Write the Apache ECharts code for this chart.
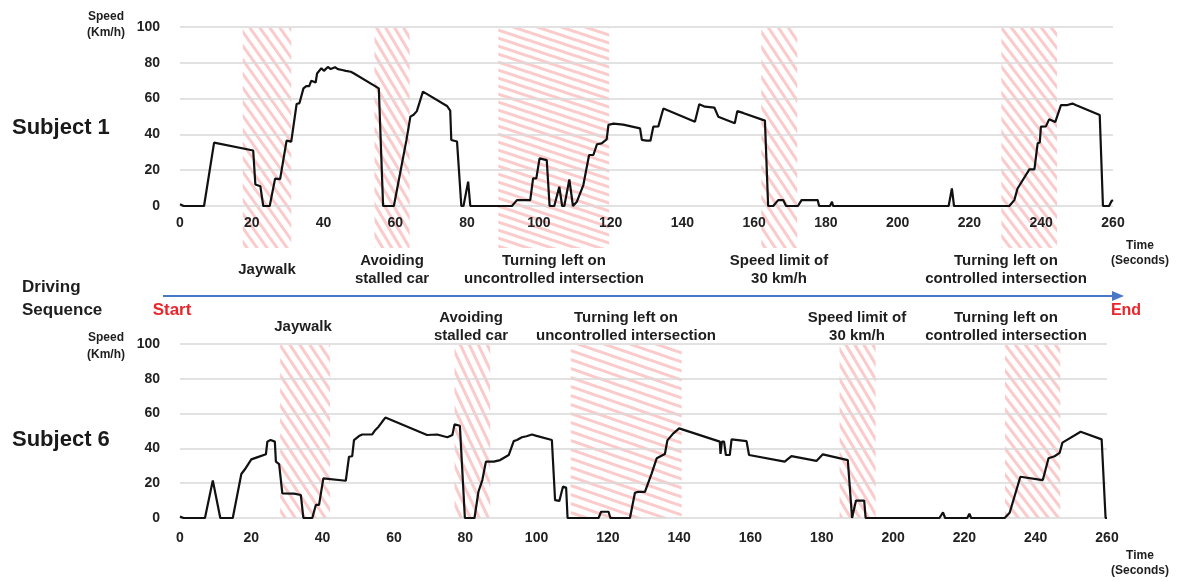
<!DOCTYPE html>
<html><head><meta charset="utf-8">
<script src="https://cdn.jsdelivr.net/npm/echarts@6/dist/echarts.min.js"></script>
<style>html,body{margin:0;padding:0;background:#fff;} #c{width:1178px;height:581px;}</style>
</head><body><div id="c"></div>
<script>
// ---------- data ----------
const xMin = 0, xMax = 260, xStep = 20;
const yMin = 0, yMax = 100, yStep = 20;

// Subject 1 speed trace [time s, speed km/h]
const subject1 = [[0,1],[1,0],[6.7,0],[9.5,35.4],[20.4,31],[21,12],[22.4,11],[23.2,0],[25,0],[26.5,15.3],[27.9,15],[29.7,36.5],[31,36],[32.5,57],[33.3,57.5],[34.4,65.7],[35.2,67],[36,67],[36.6,70],[37.8,69],[38.2,74],[39.4,77],[40.1,75.5],[41.2,77.7],[42,76.5],[43.2,77.5],[44,76.5],[45.2,76],[46.2,75.5],[47.6,75],[48.5,74],[55.4,65.7],[56.6,0],[59.6,0],[63.1,36.8],[64.2,49.9],[65.1,51],[66,53],[67.7,63.9],[74.4,55.9],[75.3,53.3],[75.6,36.9],[77.2,36],[78.4,0],[79,0],[80.3,13.6],[80.9,0],[92.5,0],[93.9,3.3],[97.6,3.3],[98.4,15.4],[99.3,15.4],[100.2,26.6],[102.2,25.6],[103,0],[104.3,0],[105.7,10.8],[106.5,0],[107.1,0],[108.5,14.9],[109.5,0],[110.6,2.4],[112.4,11.7],[114,28.5],[115.2,28.5],[116.2,34.5],[117.5,35],[118.9,37.2],[119.4,45.3],[120.8,46],[123.5,45.5],[128.2,43.4],[128.7,36.9],[130,36.5],[131.1,36.5],[131.9,44.3],[133.3,44.5],[134.7,54.5],[143.5,47.1],[144.7,56.8],[146.3,55.5],[148.9,55],[150,49.9],[154.6,46.2],[155.3,53],[156.9,52],[163,47.7],[163.9,0],[165.3,0],[166.7,3.3],[168.1,3.3],[168.9,0],[172.2,0],[173.2,3.3],[177.7,3.3],[178.1,0],[181.1,0],[181.7,2.4],[182,0],[214.2,0],[215.1,9.8],[215.7,0],[220,0],[220.4,1],[220.8,0],[231.1,0],[232.5,3.3],[233.4,9.8],[236.7,20.5],[238.1,20.5],[239,35],[239.6,35.5],[239.9,44.3],[241.3,44.5],[242.2,48.4],[243.9,46.9],[245.5,56.4],[247.3,56.4],[248.7,57.2],[249.6,56.4],[256.3,50.8],[257.2,0],[258.9,0],[259.6,2.8],[260,3.3]];

// Subject 6 speed trace [time s, speed km/h]
const subject6 = [[0,0.8],[1,0],[7,0],[9.2,21.5],[11.3,0],[14.8,0],[17.2,25.3],[18.2,28],[20,33.7],[21.8,35],[24.1,36.6],[24.5,43.9],[25.4,44.8],[26.6,43.9],[26.9,32.4],[27.8,31],[28.7,14.2],[32,14],[33.9,13.2],[34.6,0],[37.1,0],[38.1,7.5],[39,7.5],[40.2,22.8],[46.5,21.4],[47.4,35.2],[48.3,35.5],[48.8,44.8],[50.2,47.1],[51.1,48],[53.9,48],[54.8,50.6],[55.7,52.5],[56.7,55.3],[57.6,57.7],[69.3,47.7],[72.1,48],[75,46.4],[76.4,47.7],[77,53.8],[78.5,53],[79.9,0],[82.6,0],[83.7,15.1],[84.8,21.8],[85.8,32.4],[88,32.4],[89.8,33.3],[92.2,36.2],[93.6,44.2],[94.5,44.8],[95.9,46.4],[97.2,47],[98.7,48],[100,47.2],[104.3,44.8],[105.2,10.3],[106.4,9.8],[107.4,18],[108.3,17.5],[108.7,0],[117.4,0],[118.1,3.6],[120.2,3.6],[120.7,0],[126.2,0],[127.6,14.5],[128.5,15],[130.4,15],[132.3,25.7],[133.7,34.3],[136,36.8],[136.7,44.6],[138.3,48.5],[140,51.5],[151.4,43.9],[151.6,36.8],[152,43.9],[152.6,43.9],[153.1,36.2],[154.2,36.2],[154.7,45.2],[158.9,44.2],[159.6,36.2],[169.6,32.4],[171.5,35.6],[178.5,32.8],[180.3,36.6],[187.3,33.3],[188.5,0],[189.6,10],[191.9,10],[192.3,0],[213,0],[214,3.2],[214.6,0],[220.8,0],[221.4,2.5],[221.9,0],[231.3,0],[232.7,3],[235.7,23.7],[242,21.8],[243.6,34.3],[245.3,35.5],[246.7,37.4],[247.5,43.3],[252.6,49.6],[258.5,45.2],[259.6,0],[260,0]];

// Event windows [start s, end s]
const bands1 = [[17.5,31],[54.2,64],[88.7,119.6],[162,172],[228.9,244.4]];
const bands6 = [[28.1,42.1],[77,87],[109.6,140.7],[185,195.1],[231.4,246.9]];

const eventNames = ['Jaywalk','Avoiding\nstalled car','Turning left on\nuncontrolled intersection','Speed limit of\n30 km/h','Turning left on\ncontrolled intersection'];
const subjectNames = ['Subject 1','Subject 6'];

// ---------- styles ----------
const FONT = '"Liberation Sans", Arial, sans-serif';
const slopes1 = [1.4,1.7,0.35,1.5,1.3];
const slopes6 = [1.5,2.1,0.33,1.7,1.25];

function stripe(s, d){
  const W = Math.max(4, Math.round(d*Math.sqrt(1+s*s)/s));
  const H = Math.max(3, Math.round(W*s));
  const c = document.createElement('canvas'); c.width = W; c.height = H;
  const g = c.getContext('2d');
  g.strokeStyle = 'rgba(248,150,150,0.5)'; g.lineWidth = 3;
  for (let i=-1;i<=1;i++) for (let j=-1;j<=1;j++){
    g.beginPath(); g.moveTo(i*W, j*H); g.lineTo(i*W+W, j*H+H); g.stroke();
  }
  return {image: c, repeat: 'repeat'};
}

function bandSeries(bands, slopes, idx, extTop, extBottom){
  const pats = slopes.map(s => stripe(s, 8));
  return {
    type:'custom', xAxisIndex: idx, yAxisIndex: idx, z: -1, clip: false, silent: true,
    data: bands.map(b => [b[0], b[1]]),
    encode: {x: [0,1]},
    renderItem(params, api){
      const x0 = api.coord([api.value(0), 0])[0];
      const x1 = api.coord([api.value(1), 0])[0];
      const cs = params.coordSys;
      return {type:'rect', shape:{x:x0, y:cs.y+extTop, width:x1-x0, height:cs.height-extTop+extBottom},
              style:{fill: pats[params.dataIndex]}};
    }
  };
}

function xAxisCfg(i, margin){
  return {type:'value', gridIndex:i, min:xMin, max:xMax, interval:xStep,
    axisLine:{show:false}, axisTick:{show:false}, splitLine:{show:false},
    axisLabel:{margin:margin, fontSize:14, fontWeight:'bold', color:'#222', fontFamily:FONT}};
}
function yAxisCfg(i){
  return {type:'value', gridIndex:i, min:yMin, max:yMax, interval:yStep,
    axisLine:{show:false}, axisTick:{show:false},
    splitLine:{lineStyle:{color:'#d9d9d9', width:1.5}},
    axisLabel:{margin:20, fontSize:14, fontWeight:'bold', color:'#222', fontFamily:FONT}};
}
function lineSeries(d, i){
  return {type:'line', xAxisIndex:i, yAxisIndex:i, data:d, showSymbol:false, z:3,
    lineStyle:{color:'#111', width:2.2}};
}

function txt(x, y, text, size, opts){
  opts = opts || {};
  return {type:'text', x:x, y:y, silent:true, z:10,
    style:{text:text, font:'bold '+size+'px '+FONT, fill:opts.fill||'#1e1e1e',
      align:opts.align||'center', verticalAlign:'middle', lineHeight:opts.lh||Math.round(size*1.2)}};
}

const topLabelX = [267, 392, 554, 779, 1006];
const botLabelX = [303, 471, 626, 857, 1006];

const graphics = [];
graphics.push(txt(12, 128, subjectNames[0], 22, {align:'left', fill:'#1a1a1a'}));
graphics.push(txt(12, 440, subjectNames[1], 22, {align:'left', fill:'#1a1a1a'}));
graphics.push(txt(106, 24.5, 'Speed\n(Km/h)', 12, {lh:16}));
graphics.push(txt(106, 346, 'Speed\n(Km/h)', 12, {lh:17}));
graphics.push(txt(1140, 253.5, 'Time\n(Seconds)', 12, {lh:15}));
graphics.push(txt(1140, 563, 'Time\n(Seconds)', 12, {lh:15}));
graphics.push(txt(22, 298.5, 'Driving\nSequence', 17, {align:'left', lh:23}));
graphics.push(txt(172, 310, 'Start', 17, {fill:'#e8262b'}));
graphics.push(txt(1126, 311, 'End', 16, {fill:'#e8262b'}));
eventNames.forEach((n,i)=>{
  graphics.push(txt(topLabelX[i], 270, n, 15, {lh:18}));
  graphics.push(txt(botLabelX[i], 327, n, 15, {lh:18}));
});
graphics.push({type:'line', silent:true, z:9, shape:{x1:163, y1:296, x2:1114, y2:296}, style:{stroke:'#4a78c8', lineWidth:2}});
graphics.push({type:'polygon', silent:true, z:9, shape:{points:[[1112,291],[1124,296],[1112,301]]}, style:{fill:'#4a78c8'}});

const chart = echarts.init(document.getElementById('c'), null, {renderer:'canvas'});
chart.setOption({
  animation:false,
  backgroundColor:'#fff',
  grid:[{left:180, right:65, top:27, height:179}, {left:180, right:71, top:344, height:174}],
  xAxis:[xAxisCfg(0,10), xAxisCfg(1,13)],
  yAxis:[yAxisCfg(0), yAxisCfg(1)],
  series:[
    bandSeries(bands1, slopes1, 0, 1, 42),
    bandSeries(bands6, slopes6, 1, 1, 0),
    lineSeries(subject1, 0),
    lineSeries(subject6, 1)
  ],
  graphic: graphics
});
</script></body></html>
